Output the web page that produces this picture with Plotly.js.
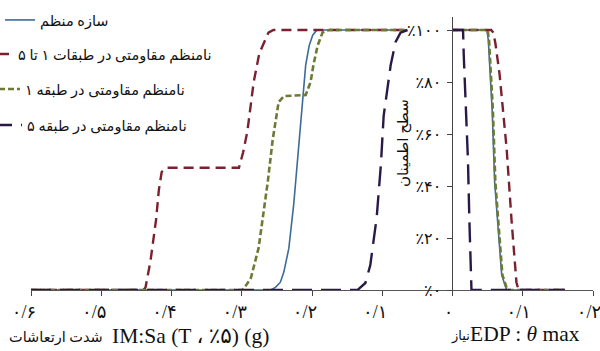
<!DOCTYPE html>
<html>
<head>
<meta charset="utf-8">
<script src="https://cdn.plot.ly/plotly-3.0.1.min.js"></script>
<style>html,body{margin:0;padding:0;background:#fff;}#chart{width:600px;height:351px;}</style>
</head>
<body>
<div id="chart"></div>
<script>
// ---- Series names ----
const seriesNames = ["سازه منظم", "نامنظم مقاومتی در طبقات ۱ تا ۵", "نامنظم مقاومتی در طبقه ۱", "نامنظم مقاومتی در طبقه ۵"];

// ---- Left panel: IM = Sa (g) vs confidence level ----
const imRegular = [0.6, 0.259, 0.252, 0.245, 0.240, 0.233, 0.226, 0.219, 0.213, 0.209, 0.204, 0.199, 0.193, 0.065];
const lvRegular = [0, 0, 0.01, 0.03, 0.07, 0.16, 0.33, 0.55, 0.75, 0.865, 0.94, 0.98, 1.0, 1.0];

const imStory15 = [0.6, 0.440, 0.437, 0.430, 0.422, 0.418, 0.414, 0.408, 0.304, 0.298, 0.292, 0.283, 0.275, 0.269, 0.262, 0.255, 0.065];
const lvStory15 = [0, 0, 0.01, 0.11, 0.27, 0.385, 0.454, 0.47, 0.47, 0.53, 0.61, 0.80, 0.91, 0.95, 0.99, 1.0, 1.0];

const imStory1 = [0.6, 0.300, 0.297, 0.287, 0.276, 0.269, 0.263, 0.256, 0.2475, 0.240, 0.209, 0.202, 0.198, 0.192, 0.185, 0.176, 0.065];
const lvStory1 = [0, 0, 0.005, 0.046, 0.162, 0.288, 0.415, 0.577, 0.723, 0.746, 0.75, 0.80, 0.865, 0.94, 0.99, 1.0, 1.0];

const imStory5 = [0.6, 0.135, 0.131, 0.124, 0.117, 0.108, 0.102, 0.098, 0.088, 0.081, 0.074, 0.064];
const lvStory5 = [0, 0, 0.01, 0.027, 0.096, 0.277, 0.48, 0.67, 0.865, 0.954, 0.99, 1.0];

// ---- Right panel: EDP = theta max vs confidence level ----
const edpRegular = [0, 0.049, 0.051, 0.053, 0.0565, 0.060, 0.065, 0.070, 0.077, 0.16];
const clRegular = [1.0, 1.0, 0.96, 0.865, 0.69, 0.415, 0.23, 0.058, 0, 0];

const edpStory15 = [0, 0.055, 0.058, 0.061, 0.067, 0.072, 0.077, 0.084, 0.088, 0.091, 0.094, 0.16];
const clStory15 = [1.0, 1.0, 0.99, 0.95, 0.83, 0.69, 0.546, 0.27, 0.12, 0.03, 0, 0];

const edpStory1 = [0, 0.050, 0.052, 0.054, 0.0575, 0.061, 0.066, 0.071, 0.078, 0.16];
const clStory1 = [1.0, 1.0, 0.96, 0.865, 0.69, 0.415, 0.23, 0.058, 0, 0];

const edpStory5 = [0, 0.015, 0.016, 0.019, 0.022, 0.024, 0.026, 0.027, 0.16];
const clStory5 = [1.0, 1.0, 0.904, 0.73, 0.5, 0.27, 0.03, 0, 0];

// ---- Tick labels ----
const leftTickVals = [0.6, 0.5, 0.4, 0.3, 0.2, 0.1];
const leftTickText = ["۰/۶", "۰/۵", "۰/۴", "۰/۳", "۰/۲", "۰/۱"];
const rightTickVals = [0, 0.1, 0.2];
const rightTickText = ["۰", "۰/۱", "۰/۲"];
const levelTickVals = [0, 0.2, 0.4, 0.6, 0.8, 1.0];
const levelTickText = ["٪۰", "٪۲۰", "٪۴۰", "٪۶۰", "٪۸۰", "٪۱۰۰"];

const xTitleLeftFa = "شدت ارتعاشات";
const xTitleLeftEn = "IM:Sa (T ، ٪۵) (g)";
const xTitleRightFa = "نیاز";
const xTitleRightEn = "EDP : <i>θ</i> max";
const yTitle = "سطح اطمینان";

// ---- Styles ----
const FONT = "Liberation Serif, DejaVu Sans, serif";
const styles = [
  {color: "#3d6a96", width: 1.6, dash: "solid"},
  {color: "#7a2030", width: 2.4, dash: "10px,6px"},
  {color: "#6c7a34", width: 2.6, dash: "6px,3px"},
  {color: "#2a1846", width: 2.4, dash: "20px,9px"}
];
const legendIds = ["legend", "legend2", "legend3", "legend4"];

const leftX = [imRegular, imStory15, imStory1, imStory5];
const leftY = [lvRegular, lvStory15, lvStory1, lvStory5];
const rightX = [edpRegular, edpStory15, edpStory1, edpStory5];
const rightY = [clRegular, clStory15, clStory1, clStory5];

const order = [0, 1, 2, 3];
const traces = [];
order.forEach(i => {
  traces.push({
    x: leftX[i], y: leftY[i], xaxis: "x", yaxis: "y",
    type: "scatter", mode: "lines", name: seriesNames[i],
    line: {color: styles[i].color, width: styles[i].width, dash: styles[i].dash},
    legend: legendIds[i], showlegend: true, hoverinfo: "skip"
  });
  traces.push({
    x: rightX[i], y: rightY[i], xaxis: "x2", yaxis: "y",
    type: "scatter", mode: "lines", name: seriesNames[i],
    line: {color: styles[i].color, width: styles[i].width, dash: styles[i].dash},
    legend: legendIds[i], showlegend: false, hoverinfo: "skip"
  });
});

const L = 31, R = 7, T = 17, B = 61, W = 600, H = 351;
const pw = W - L - R, ph = H - T - B;
const px = v => (v - L) / pw;
const py = v => (H - B - v) / ph;

function legendAt(xpx, ypx) {
  return {
    x: px(xpx), y: py(ypx), xanchor: "left", yanchor: "middle",
    bgcolor: "rgba(0,0,0,0)", borderwidth: 0,
    font: {family: FONT, size: 14.5, color: "#111"},
    itemwidth: 30
  };
}

const axisCommon = {
  ticks: "outside", ticklen: 5, tickwidth: 1, tickcolor: "#444",
  showline: true, linecolor: "#555", linewidth: 1,
  showgrid: false, zeroline: false, ticklabeloverflow: "allow",
  tickfont: {family: FONT, size: 18, color: "#111"}
};

function note(text, xpx, ypx, anchor, size) {
  return {text: text, xref: "paper", yref: "paper", x: px(xpx), y: py(ypx),
          xanchor: anchor, yanchor: "middle", showarrow: false,
          font: {family: FONT, size: size, color: "#111"}};
}

const layout = {
  width: W, height: H,
  margin: {l: L, r: R, t: T, b: B, autoexpand: false},
  paper_bgcolor: "#fff", plot_bgcolor: "rgba(0,0,0,0)",
  font: {family: FONT, size: 13, color: "#111"},
  xaxis: Object.assign({}, axisCommon, {
    domain: [0, 0.75], range: [0.6, 0], anchor: "y",
    tickvals: leftTickVals, ticktext: leftTickText, ticklabelshift: 7
  }),
  xaxis2: Object.assign({}, axisCommon, {
    domain: [0.75, 1], range: [0, 0.2], anchor: "y",
    tickvals: rightTickVals, ticktext: rightTickText, ticklabelshift: -4
  }),
  yaxis: {
    range: [0, 1.05], anchor: "x2", side: "left",
    tickvals: levelTickVals, ticktext: levelTickText,
    ticks: "outside", ticklen: 5, tickwidth: 1, tickcolor: "#444",
    showline: true, linecolor: "#444", linewidth: 1,
    showgrid: false, zeroline: false, ticklabeloverflow: "allow",
    ticklabelstandoff: 2,
    tickfont: {family: FONT, size: 16, color: "#111"}
  },
  yaxis2: {
    range: [0, 1.05], anchor: "x2", overlaying: "y", side: "left",
    tickvals: levelTickVals, showticklabels: false,
    ticks: "inside", ticklen: 5, tickwidth: 1, tickcolor: "#444",
    showline: false, showgrid: false, zeroline: false
  },
  legend: legendAt(0, 20),
  legend2: legendAt(-22, 54),
  legend3: legendAt(-15, 89),
  legend4: legendAt(-13, 125),
  annotations: [
    note(xTitleLeftFa, 56, 337, "center", 14.5),
    note(xTitleLeftEn, 110, 336, "left", 21.5),
    note(xTitleRightFa, 460, 336, "center", 13),
    note(xTitleRightEn, 468, 334, "left", 21.5),
    Object.assign(note(yTitle, 403, 143, "center", 15), {textangle: -90})
  ],
  showlegend: true
};

Plotly.newPlot("chart", traces, layout, {staticPlot: true, displayModeBar: false});
</script>
</body>
</html>
